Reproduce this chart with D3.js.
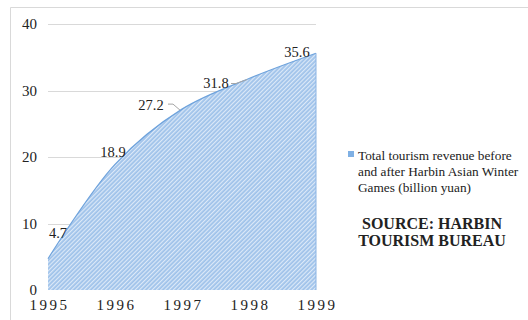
<!DOCTYPE html>
<html>
<head>
<meta charset="utf-8">
<script src="https://cdn.jsdelivr.net/npm/d3@7"></script>
<style>
  body { margin: 0; background: #fff; }
  text { font-family: "Liberation Serif", "Times New Roman", serif; fill: #222; }
</style>
</head>
<body>
<script>
// data
var years = ["1995", "1996", "1997", "1998", "1999"];
var revenue = [4.7, 18.9, 27.2, 31.8, 35.6];
var yTicks = [0, 10, 20, 30, 40];
var seriesName = ["Total tourism revenue before", "and after Harbin Asian Winter", "Games (billion yuan)"];
var sourceLines = ["SOURCE: HARBIN", "TOURISM BUREAU"];

var w = 528, h = 320;
var svg = d3.select("body").append("svg").attr("width", w).attr("height", h);

// chart frame (cut off at right and bottom)
svg.append("path").attr("d", "M10.5," + h + "V7.5H" + w)
  .attr("fill", "none").attr("stroke", "#d9d9d9");

var defs = svg.append("defs");
var pat = defs.append("pattern").attr("id", "hatch")
  .attr("patternUnits", "userSpaceOnUse").attr("width", 3).attr("height", 3)
  .attr("patternTransform", "rotate(45)");
pat.append("rect").attr("width", 3).attr("height", 3).attr("fill", "#9fc2ea");
pat.append("rect").attr("width", 1.2).attr("height", 3).attr("fill", "#dce9f8");

var x = d3.scalePoint().domain(years).range([48, 316]);
var y = d3.scaleLinear().domain([0, 40]).range([290, 24]);

// gridlines
svg.selectAll(".grid").data(yTicks.slice(1)).enter().append("line")
  .attr("x1", 48).attr("x2", 316)
  .attr("y1", function(d){ return Math.round(y(d)) + 0.5; })
  .attr("y2", function(d){ return Math.round(y(d)) + 0.5; })
  .attr("stroke", "#d9d9d9").attr("stroke-width", 1);

svg.selectAll(".ylab").data(yTicks).enter().append("text")
  .attr("x", 37).attr("y", function(d){ return y(d) + 5; })
  .attr("text-anchor", "end").style("font-size", "15px")
  .text(function(d){ return d; });

svg.selectAll(".xlab").data(years).enter().append("text")
  .attr("x", function(d){ return x(d) + 1.5; }).attr("y", 310)
  .attr("text-anchor", "middle").style("font-size", "15px")
  .style("letter-spacing", "2.5px")
  .text(function(d){ return d; });

var pts = years.map(function(d, i){ return [x(d), y(revenue[i])]; });

var curve = d3.curveCatmullRom.alpha(0.5);
var area = d3.area()
  .x(function(d){ return d[0]; })
  .y0(y(0)).y1(function(d){ return d[1]; })
  .curve(curve);
svg.append("path").datum(pts).attr("d", area).attr("fill", "url(#hatch)");

var line = d3.line().x(function(d){ return d[0]; }).y(function(d){ return d[1]; })
  .curve(curve);
svg.append("path").datum(pts).attr("d", line)
  .attr("fill", "none").attr("stroke", "#6fa3dc").attr("stroke-width", 1.2);
svg.append("line").attr("x1", 316).attr("x2", 316).attr("y1", y(revenue[4])).attr("y2", y(0))
  .attr("stroke", "#8db5e4").attr("stroke-width", 1);

// data labels
var labOff = [[10, -21], [-2, -7], [-31, 1], [-33, 9], [-19, 4]];
svg.selectAll(".dlab").data(revenue).enter().append("text")
  .attr("x", function(d, i){ return pts[i][0] + labOff[i][0]; })
  .attr("y", function(d, i){ return pts[i][1] + labOff[i][1]; })
  .attr("text-anchor", "middle").style("font-size", "14.5px")
  .text(function(d){ return d.toFixed(1); });

// leader lines for 27.2 and 31.8
[[2, -14, -5], [3, -18, 5]].forEach(function(p){
  var px = pts[p[0]][0], py = pts[p[0]][1];
  svg.append("path")
    .attr("d", "M" + (px + p[1]) + "," + (py + p[2]) + "h5L" + (px - 2) + "," + (py + 1))
    .attr("fill", "none").attr("stroke", "#a6a6a6").attr("stroke-width", 1);
});

// legend
svg.append("rect").attr("x", 348).attr("y", 151).attr("width", 6).attr("height", 6)
  .attr("fill", "#7fb0e4");
svg.selectAll(".leg").data(seriesName).enter().append("text")
  .attr("x", 358).attr("y", function(d, i){ return 160 + i * 16; })
  .style("font-size", "13.3px")
  .text(function(d){ return d; });

svg.selectAll(".src").data(sourceLines).enter().append("text")
  .attr("x", 432).attr("y", function(d, i){ return 229 + i * 17; })
  .attr("text-anchor", "middle")
  .style("font-size", "16px").style("font-weight", "bold")
  .text(function(d){ return d; });
</script>
</body>
</html>
